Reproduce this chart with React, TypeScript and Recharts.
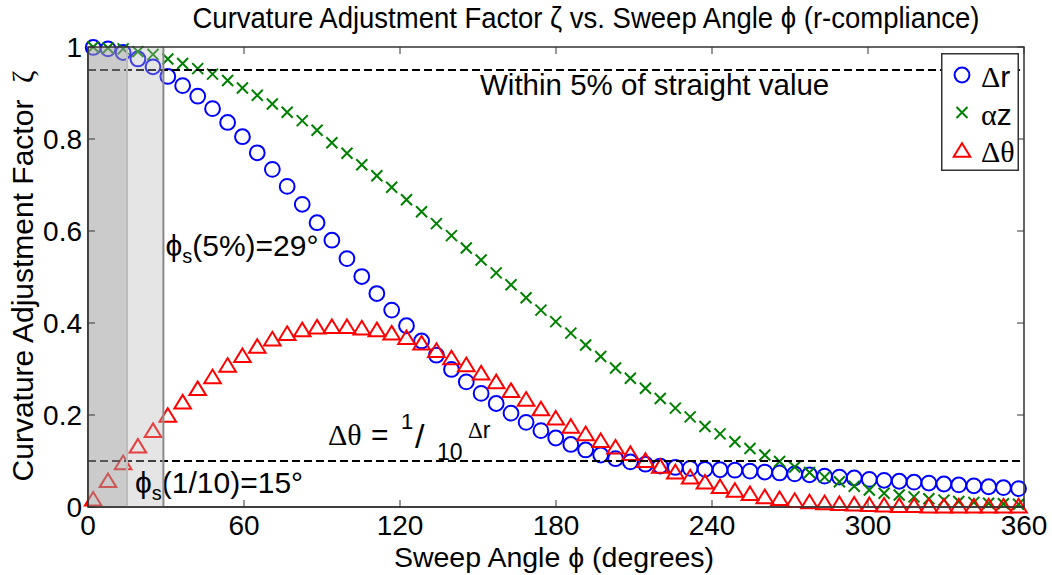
import React from 'react';
import {
  ScatterChart,
  Scatter,
  XAxis,
  YAxis,
  ReferenceLine,
  ReferenceArea,
  Legend,
  Customized,
} from 'recharts';

// sweep angle of each marker (degrees)
const ANGLES = [
  2.0, 7.7, 13.5, 19.2, 25.0, 30.7, 36.4, 42.2, 47.9, 53.7,
  59.4, 65.1, 70.9, 76.6, 82.4, 88.1, 93.8, 99.6, 105.3, 111.1,
  116.8, 122.5, 128.3, 134.0, 139.8, 145.5, 151.2, 157.0, 162.7, 168.5,
  174.2, 179.9, 185.7, 191.4, 197.2, 202.9, 208.6, 214.4, 220.1, 225.9,
  231.6, 237.3, 243.1, 248.8, 254.6, 260.3, 266.0, 271.8, 277.5, 283.3,
  289.0, 294.7, 300.5, 306.2, 312.0, 317.7, 323.4, 329.2, 334.9, 340.7,
  346.4, 352.1, 357.9,
];

const DELTA_R = [
  0.999, 0.996, 0.988, 0.974, 0.957, 0.936, 0.916, 0.893, 0.866, 0.836,
  0.805, 0.770, 0.734, 0.697, 0.658, 0.618, 0.580, 0.540, 0.501, 0.464,
  0.428, 0.394, 0.361, 0.330, 0.299, 0.272, 0.247, 0.225, 0.204, 0.184,
  0.166, 0.150, 0.136, 0.124, 0.113, 0.105, 0.098, 0.093, 0.089, 0.086,
  0.084, 0.082, 0.081, 0.080, 0.078, 0.076, 0.074, 0.072, 0.070, 0.067,
  0.065, 0.063, 0.060, 0.058, 0.056, 0.054, 0.052, 0.050, 0.048, 0.046,
  0.044, 0.042, 0.040,
];

const ALPHA_Z = [
  1.000, 0.998, 0.996, 0.990, 0.984, 0.974, 0.964, 0.953, 0.941, 0.927,
  0.911, 0.895, 0.876, 0.858, 0.840, 0.819, 0.792, 0.769, 0.744, 0.720,
  0.695, 0.668, 0.642, 0.616, 0.590, 0.563, 0.537, 0.509, 0.483, 0.455,
  0.428, 0.403, 0.378, 0.352, 0.327, 0.302, 0.280, 0.258, 0.236, 0.215,
  0.196, 0.175, 0.159, 0.142, 0.127, 0.113, 0.099, 0.087, 0.075, 0.065,
  0.055, 0.045, 0.037, 0.030, 0.026, 0.022, 0.018, 0.015, 0.012, 0.010,
  0.008, 0.007, 0.006,
];

const DELTA_THETA = [
  0.018, 0.058, 0.097, 0.133, 0.167, 0.200, 0.229, 0.258, 0.284, 0.309,
  0.330, 0.350, 0.366, 0.378, 0.386, 0.392, 0.393, 0.393, 0.390, 0.386,
  0.379, 0.369, 0.357, 0.341, 0.325, 0.310, 0.292, 0.273, 0.254, 0.235,
  0.214, 0.194, 0.176, 0.160, 0.145, 0.131, 0.117, 0.102, 0.089, 0.077,
  0.066, 0.055, 0.045, 0.037, 0.030, 0.023, 0.019, 0.015, 0.012, 0.010,
  0.008, 0.007, 0.006, 0.005, 0.004, 0.004, 0.003, 0.003, 0.003, 0.003,
  0.003, 0.003, 0.003,
];

const X_TICKS = [0, 60, 120, 180, 240, 300, 360];
const Y_TICKS = [0, 0.2, 0.4, 0.6, 0.8, 1];

const STRAIGHT_5PCT = 0.95;
const TENTH = 0.1;
const PHI_TENTH = 15;
const PHI_5PCT = 29;

const W = 1052;
const H = 575;
const LEFT = 88;
const RIGHT = 1024;
const TOP = 47;
const BOTTOM = 507;
const X_AXIS_H = 40;
const Y_AXIS_W = 50;

const SANS = '"Liberation Sans", Arial, Helvetica, sans-serif';
const SERIF = '"Liberation Serif", "Times New Roman", serif';
const AXIS = '#333';

const toPoints = (vals: number[]) => ANGLES.map((phi, i) => ({ phi, zeta: vals[i] }));

const Circle = ({ cx, cy }: any) => (
  <circle cx={cx} cy={cy} r={7.4} fill="none" stroke="#0000ff" strokeWidth={2} />
);

const Cross = ({ cx, cy }: any) => {
  const s = 5.5;
  return (
    <path
      d={`M${cx - s},${cy - s}L${cx + s},${cy + s}M${cx - s},${cy + s}L${cx + s},${cy - s}`}
      stroke="#008000"
      strokeWidth={2}
      fill="none"
    />
  );
};

const Tri = ({ cx, cy }: any) => {
  const hw = 8.3;
  const hh = 6.8;
  return (
    <path
      d={`M${cx},${cy - hh}L${cx + hw},${cy + hh}L${cx - hw},${cy + hh}Z`}
      fill="none"
      stroke="#ff0000"
      strokeWidth={2}
    />
  );
};

const SERIES = [
  { key: 'dr', greek: 'Δ', latin: 'r', vals: DELTA_R, Shape: Circle },
  { key: 'az', greek: 'α', latin: 'z', vals: ALPHA_Z, Shape: Cross },
  { key: 'dt', greek: 'Δθ', latin: '', vals: DELTA_THETA, Shape: Tri },
];

const XTick = ({ x, payload }: any) => (
  <g>
    <line x1={x} y1={BOTTOM} x2={x} y2={BOTTOM - 7} stroke={AXIS} />
    <line x1={x} y1={TOP} x2={x} y2={TOP + 7} stroke={AXIS} />
    <text x={x} y={BOTTOM + 28} textAnchor="middle" fontSize={28} fontFamily={SANS} fill="#000">
      {payload.value}
    </text>
  </g>
);

const YTick = ({ y, payload }: any) => (
  <g>
    <line x1={LEFT} y1={y} x2={LEFT + 7} y2={y} stroke={AXIS} />
    <line x1={RIGHT} y1={y} x2={RIGHT - 7} y2={y} stroke={AXIS} />
    <text x={LEFT - 6} y={y + 10} textAnchor="end" fontSize={28} fontFamily={SANS} fill="#000">
      {payload.value}
    </text>
  </g>
);

const LegendBox = () => (
  <svg width={78} height={118} style={{ display: 'block' }}>
    <rect x={0.75} y={0.75} width={76.5} height={116.5} fill="#fff" stroke={AXIS} strokeWidth={1.5} />
    {SERIES.map(({ key, greek, latin, Shape }, i) => {
      const cy = 22 + i * 37.5;
      return (
        <g key={key}>
          <Shape cx={21} cy={cy} />
          <text x={40} y={cy + 12} fontSize={30} fill="#000">
            <tspan fontFamily={SERIF}>{greek}</tspan>
            <tspan fontFamily={SANS}>{latin}</tspan>
          </text>
        </g>
      );
    })}
  </svg>
);

const Titles = () => (
  <g fontFamily={SANS} fill="#000">
    <text x={586} y={28} textAnchor="middle" fontSize={29} textLength={787} lengthAdjust="spacingAndGlyphs">
      Curvature Adjustment Factor ζ vs. Sweep Angle ϕ (r-compliance)
    </text>
    <text x={554} y={567} textAnchor="middle" fontSize={28.5}>
      Sweep Angle ϕ (degrees)
    </text>
    <text transform="translate(33,276) rotate(-90)" textAnchor="middle" fontSize={30}>
      {'Curvature Adjustment Factor\u00a0\u00a0'}
      <tspan fontFamily={SERIF}>ζ</tspan>
    </text>
  </g>
);

const StraightLabel = ({ viewBox }: any) => (
  <text x={viewBox.x + 392} y={viewBox.y + 25} fontSize={29.5} fontFamily={SANS} fill="#000">
    Within 5% of straight value
  </text>
);

const TenthLabel = ({ viewBox }: any) => {
  const x = viewBox.x + 240;
  const y = viewBox.y - 16;
  return (
    <g fontFamily={SANS} fill="#000">
      <text x={x} y={y} fontSize={30} fontFamily={SERIF}>Δθ</text>
      <text x={x + 43} y={y} fontSize={30}>=</text>
      <text x={x + 73} y={y - 16} fontSize={22}>1</text>
      <text x={x + 87} y={y + 3} fontSize={34}>/</text>
      <text x={x + 109} y={y + 15} fontSize={23}>10</text>
      <text x={x + 140} y={y - 7} fontSize={23}>
        <tspan fontFamily={SERIF}>Δ</tspan>r
      </text>
    </g>
  );
};

const PhiLabel = (text: string, dx: number, dy: number) => ({ viewBox }: any) => (
  <text x={viewBox.x + dx} y={viewBox.y + dy} fontSize={30} fontFamily={SANS} fill="#000">
    ϕ
    <tspan fontSize={20} dy={7}>s</tspan>
    <tspan dy={-7}>{text}</tspan>
  </text>
);

export default function App() {
  return (
    <div style={{ width: W, height: H, background: '#fff' }}>
      <style>{'body{margin:0}'}</style>
      <ScatterChart
        width={W}
        height={H}
        margin={{ top: TOP, right: W - RIGHT, bottom: H - BOTTOM - X_AXIS_H, left: LEFT - Y_AXIS_W }}
      >
        <XAxis
          type="number"
          dataKey="phi"
          domain={[0, 360]}
          ticks={X_TICKS}
          interval={0}
          height={X_AXIS_H}
          tick={XTick}
          tickLine={false}
          axisLine={{ stroke: AXIS, strokeWidth: 1.5 }}
        />
        <YAxis
          type="number"
          dataKey="zeta"
          domain={[0, 1]}
          ticks={Y_TICKS}
          interval={0}
          width={Y_AXIS_W}
          tick={YTick}
          tickLine={false}
          axisLine={{ stroke: AXIS, strokeWidth: 1.5 }}
        />
        {SERIES.map(({ key, vals, Shape }) => (
          <Scatter key={key} data={toPoints(vals)} shape={Shape} isAnimationActive={false} zIndex={600} />
        ))}
        <ReferenceLine
          y={STRAIGHT_5PCT}
          stroke="#000"
          strokeWidth={2}
          strokeDasharray="8 4"
          zIndex={650}
          label={StraightLabel}
        />
        <ReferenceLine
          y={TENTH}
          stroke="#000"
          strokeWidth={2}
          strokeDasharray="8 4"
          zIndex={650}
          label={TenthLabel}
        />
        <ReferenceArea x1={0} x2={PHI_TENTH} y1={0} y2={1} fill="#a0a0a0" fillOpacity={0.55} stroke="none" zIndex={700} />
        <ReferenceArea x1={PHI_TENTH} x2={PHI_5PCT} y1={0} y2={1} fill="#b4b4b4" fillOpacity={0.35} stroke="none" zIndex={700} />
        <ReferenceLine x={PHI_TENTH} stroke="#bcbcbc" strokeWidth={2} zIndex={750} label={PhiLabel('(1/10)=15°', 8, 446)} />
        <ReferenceLine x={PHI_5PCT} stroke="#8a8a8a" strokeWidth={2} zIndex={750} label={PhiLabel('(5%)=29°', 2, 209)} />
        <ReferenceArea x1={0} x2={360} y1={0} y2={1} fill="none" stroke={AXIS} strokeWidth={1.5} zIndex={800} />
        <Customized component={Titles} />
        <Legend
          layout="vertical"
          align="center"
          verticalAlign="middle"
          wrapperStyle={{ left: 941, top: 53, width: 78, height: 118 }}
          content={LegendBox}
        />
      </ScatterChart>
    </div>
  );
}
